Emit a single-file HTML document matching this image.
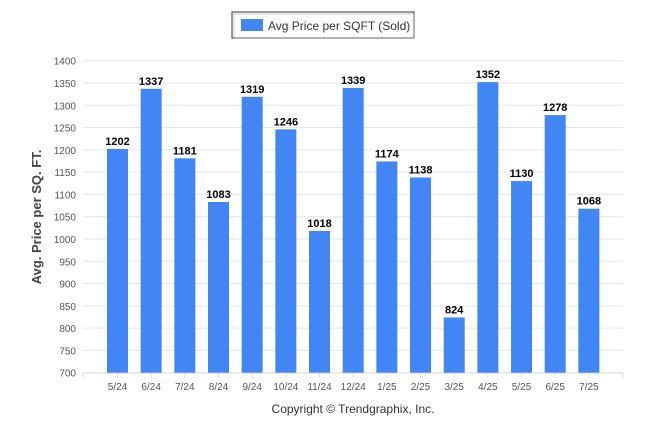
<!DOCTYPE html>
<html><head><meta charset="utf-8"><style>
body{margin:0;background:#fff;width:646px;height:434px;overflow:hidden;font-family:"Liberation Sans",sans-serif}
</style></head><body>
<svg width="646" height="434" id="chart" font-family="Liberation Sans, sans-serif">
<g>
<rect x="232" y="12" width="182" height="26" fill="#fff" stroke="#333" stroke-width="1"/>
<rect x="234" y="14" width="180" height="24" fill="none" stroke="#999" stroke-width="0.5"/>
<rect x="241" y="19" width="22" height="12" fill="#4285f4"/>
<text x="268" y="30" font-size="12" fill="#333">Avg Price per SQFT (Sold)</text>
</g>
<text transform="translate(41,217) rotate(-90)" text-anchor="middle" font-size="13" font-weight="bold" fill="#444">Avg. Price per SQ. FT.</text>
<text x="353" y="413" text-anchor="middle" font-size="12" fill="#333">Copyright © Trendgraphix, Inc.</text>
<g id="grid"></g><g id="bars"></g>
</svg>
<script>
const categories=["5/24","6/24","7/24","8/24","9/24","10/24","11/24","12/24","1/25","2/25","3/25","4/25","5/25","6/25","7/25"];
const values=[1202,1337,1181,1083,1319,1246,1018,1339,1174,1138,824,1352,1130,1278,1068];
const yTicks=[700,750,800,850,900,950,1000,1050,1100,1150,1200,1250,1300,1350,1400];
const NS="http://www.w3.org/2000/svg";
const y=v=>372.7-(v-700)*(312/700);
const x=i=>117.5+i*33.67;
const grid=document.getElementById('grid'),bars=document.getElementById('bars');
function mk(t,a,p){const e=document.createElementNS(NS,t);for(const k in a)e.setAttribute(k,a[k]);p.appendChild(e);return e;}
yTicks.forEach(v=>{
 const l=mk('line',{x1:83,x2:623,y1:y(v),y2:y(v),stroke:'#e6e6e6','stroke-width':1},grid);
 
 
 const t=mk('text',{x:76,y:y(v)+4,'text-anchor':'end','font-size':10,fill:'#555'},grid);
 t.textContent=v;
 
 
});
mk('line',{x1:83,x2:623,y1:373,y2:373,stroke:'#ddd'},grid);
mk('line',{x1:83,x2:83,y1:373,y2:378,stroke:'#ddd'},grid);
mk('line',{x1:623,x2:623,y1:373,y2:378,stroke:'#ddd'},grid);
categories.forEach((c,i)=>{
 const cx=x(i),v=values[i];
 const r=mk('rect',{x:cx-10.5,y:y(v),width:21,height:y(700)-y(v),fill:'#4285f4'},bars);
 
 
 mk('line',{x1:cx,x2:cx,y1:373,y2:378,stroke:'#ddd'},grid);
 const t=mk('text',{x:cx,y:y(v)-4,'text-anchor':'middle','font-size':11,'font-weight':'bold',fill:'#000'},bars);
 t.textContent=v;
 
 
 const xl=mk('text',{x:cx,y:390,'text-anchor':'middle','font-size':10,fill:'#555'},bars);
 xl.textContent=c;
 
 
});
</script>
</body></html>
